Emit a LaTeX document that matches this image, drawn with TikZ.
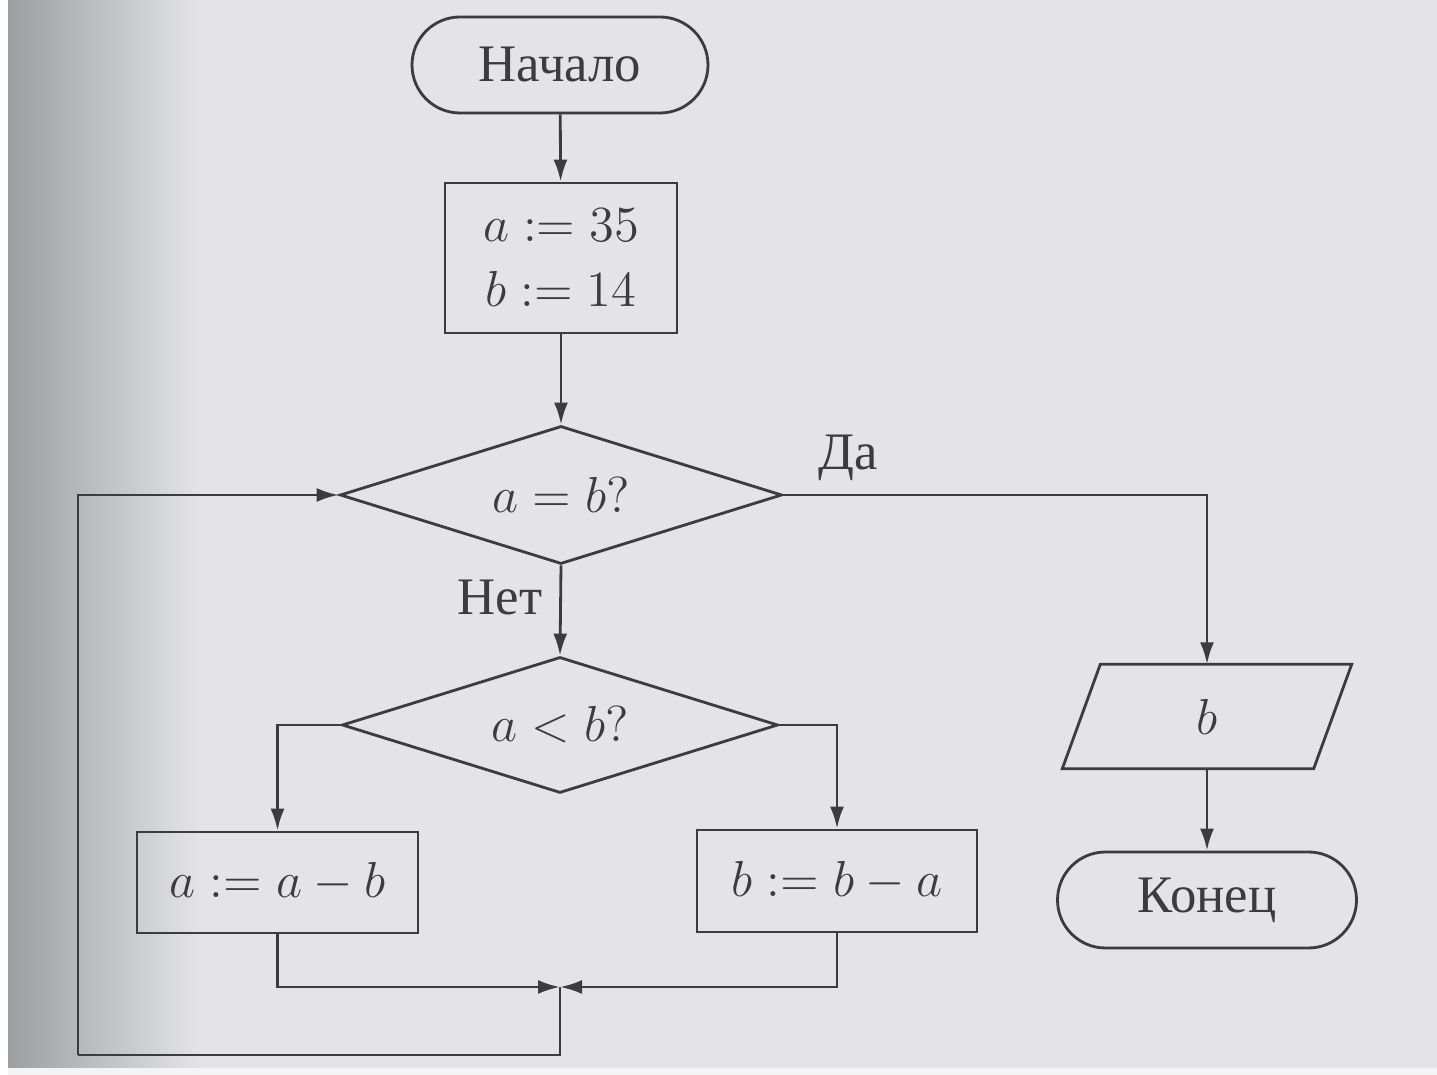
\documentclass[tikz,border=0pt]{standalone}
\usepackage{fontspec}
\setmainfont{Liberation Serif}
\usetikzlibrary{arrows.meta,shapes.geometric}
\definecolor{ink}{HTML}{3C3C3E}
\definecolor{paper}{HTML}{E4E4E6}
\definecolor{edge}{HTML}{9C9EA2}
\tikzset{
  blk/.style={draw=ink,line width=0.8pt,text=ink,font=\fontsize{15}{18.5}\selectfont},
  term/.style={blk,rectangle,rounded corners=4.8mm,minimum height=9.6mm},
  proc/.style={blk,rectangle,align=center},
  cond/.style={blk,diamond,inner sep=0pt,aspect=3.2},
  io/.style={rectangle,text=ink,font=\fontsize{15}{18.5}\selectfont},
  arr/.style={draw=ink,line width=0.8pt,-{Latex[length=2.2mm,width=1.4mm]}},
  lnk/.style={draw=ink,line width=0.8pt},
  lbl/.style={text=ink,font=\fontsize{15}{18}\selectfont}
}
\begin{document}
\begin{tikzpicture}
  \useasboundingbox (0,0) rectangle (14.37,-10.75);
  \fill[paper] (0,0) rectangle (14.37,-10.75);
  \shade[left color=edge,right color=paper] (0.08,0) rectangle (2.0,-10.75);
  \fill[white] (0,0) rectangle (0.08,-10.75);
  \fill[white!60!paper] (0.08,-10.68) rectangle (14.37,-10.75);

  \node[term,minimum width=29.6mm] (start) at (5.60,-0.65) {Начало};
  \node[proc,minimum width=23.2mm,minimum height=15mm] (init) at (5.61,-2.58) {$a := 35$\\$b := 14$};
  \node[cond,minimum width=44.2mm,minimum height=13.8mm] (eq) at (5.61,-4.95) {$a = b?$};
  \node[cond,minimum width=43.6mm,minimum height=13.6mm] (lt) at (5.60,-7.25) {$a < b?$};
  \node[proc,minimum width=28.1mm,minimum height=10.1mm] (amb) at (2.775,-8.825) {$a := a - b$};
  \node[proc,minimum width=28.0mm,minimum height=10.2mm] (bma) at (8.37,-8.81) {$b := b - a$};
  \node[io,minimum width=25mm,minimum height=10.3mm] (out) at (12.07,-7.165) {$b$};
  \draw[lnk] ([xshift=1.9mm]out.north west) -- ([xshift=1.9mm]out.north east)
    -- ([xshift=-1.9mm]out.south east) -- ([xshift=-1.9mm]out.south west) -- cycle;
  \node[term,minimum width=29.9mm] (end) at (12.07,-9.00) {Конец};

  \node[lbl] (yes) at (8.48,-4.58) {Да};
  \node[lbl] (no) at (5.00,-5.98) {Нет};

  \coordinate (merge) at (5.60,-9.87);
  \coordinate (loopleft) at (0.78,-10.55);

  \draw[arr] (start) -- (init);
  \draw[arr] (init) -- (eq);
  \draw[arr] (eq.south) -- (lt.north);
  \draw[arr] (eq.east) -| (out.north);
  \draw[arr] (lt.west) -| (amb.north);
  \draw[arr] (lt.east) -| (bma.north);
  \draw[arr] (amb.south) |- (merge);
  \draw[arr] (bma.south) |- (merge);
  \draw[lnk] (merge) |- (loopleft);
  \draw[arr] (loopleft) |- (eq.west);
  \draw[arr] (out.south) -- (end.north);
\end{tikzpicture}
\end{document}
